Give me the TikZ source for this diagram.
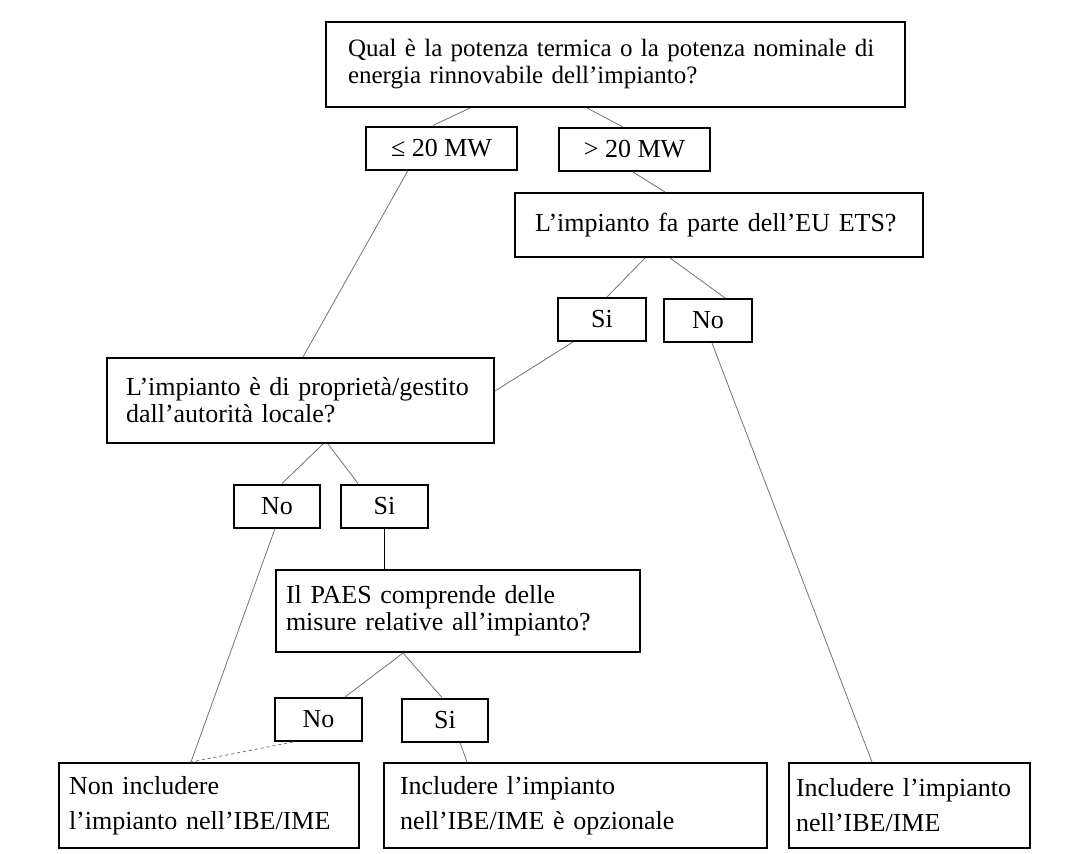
\documentclass[tikz,border=0pt]{standalone}
\usepackage{fontspec}
\setmainfont{Liberation Serif}

\begin{document}
\begin{tikzpicture}[x=1pt,y=-1pt,
  box/.style={draw,line width=2pt,align=left,inner ysep=0pt,font=\fontsize{26}{27}\selectfont},
  tag/.style={draw,line width=2pt,align=center,minimum height=43pt,inner sep=0pt,font=\fontsize{26}{27}\selectfont},
  link/.style={draw=black!55,line width=0.8pt}]
  \useasboundingbox (0,0) rectangle (1069,854);
  % domande
  \node[box,minimum height=85pt,inner xsep=22pt,text width=535pt,font=\fontsize{25}{27}\selectfont] (q1) at (615.5,64.5) {Qual è la potenza termica o la potenza nominale di\\energia rinnovabile dell'impianto?};
  \node[tag,minimum width=151pt] (mwA) at (441.5,148) {≤ 20 MW};
  \node[tag,minimum width=151pt] (mwB) at (634.5,149.5) {> 20 MW};
  \node[box,minimum height=64pt,inner xsep=20pt,text width=368pt] (ets) at (719,225) {L'impianto fa parte dell'EU ETS?};
  \node[tag,minimum width=88pt] (siA) at (602,319.5) {Si};
  \node[tag,minimum width=88pt] (noA) at (708,320.5) {No};
  \node[box,minimum height=85pt,inner xsep=19pt,text width=349pt] (loc) at (300.5,400.5) {L'impianto è di proprietà/gestito\\dall'autorità locale?};
  \node[tag,minimum width=86pt] (noB) at (277,506) {No};
  \node[tag,minimum width=87pt] (siB) at (384.5,506) {Si};
  \node[box,minimum height=82pt,inner xsep=10pt,text width=344pt] (paes) at (458,611) {Il PAES comprende delle\\misure relative all'impianto?};
  \node[tag,minimum width=87pt] (noC) at (318.5,719.5) {No};
  \node[tag,minimum width=86pt] (siC) at (445,720) {Si};
  % risposte
  \node[box,minimum height=85pt,inner xsep=10pt,text width=280pt,font=\fontsize{26}{35}\selectfont] (out1) at (209,805.5) {Non includere\\l'impianto nell'IBE/IME};
  \node[box,minimum height=85pt,inner xsep=16pt,text width=351pt,font=\fontsize{26}{35}\selectfont] (out2) at (575.5,805.5) {Includere l'impianto\\nell'IBE/IME è opzionale};
  \node[box,minimum height=85pt,inner xsep=7pt,text width=227pt,font=\fontsize{26}{35}\selectfont] (out3) at (909.5,805.5) {Includere l'impianto\\nell'IBE/IME};

  \draw[link] ([xshift=-145.5pt]q1.south) -- ([xshift=-8.5pt]mwA.north);
  \draw[link] ([xshift=-28.5pt]q1.south) -- ([xshift=-11.5pt]mwB.north);
  \draw[link] ([xshift=-33.5pt]mwA.south) -- ([xshift=2.5pt]loc.north);
  \draw[link] ([xshift=-1.5pt]mwB.south) -- ([xshift=-54pt]ets.north);
  \draw[link] ([xshift=-74pt]ets.south) -- ([xshift=5pt]siA.north);
  \draw[link] ([xshift=-49pt]ets.south) -- ([xshift=17pt]noA.north);
  \draw[link] ([xshift=-29pt]siA.south) -- ([yshift=9.5pt]loc.east);
  \draw[link] ([xshift=4pt]noA.south) -- ([xshift=-37.5pt]out3.north);
  \draw[link] ([xshift=22.5pt]loc.south) -- ([xshift=5pt]noB.north);
  \draw[link] ([xshift=27.5pt]loc.south) -- ([xshift=-26.5pt]siB.north);
  \draw[link] ([xshift=-2pt]noB.south) -- ([xshift=-18pt]out1.north);
  \draw[line width=1pt] (siB.south) -- (siB.south |- paes.north);
  \draw[link] ([xshift=-55pt]paes.south) -- ([xshift=26.5pt]noC.north);
  \draw[link] ([xshift=-55pt]paes.south) -- ([xshift=-3pt]siC.north);
  \draw[link,dashed] ([xshift=-25.5pt]noC.south) -- ([xshift=-18pt]out1.north);
  \draw[link] ([xshift=15pt]siC.south) -- ([xshift=-108.5pt]out2.north);
\end{tikzpicture}
\end{document}
